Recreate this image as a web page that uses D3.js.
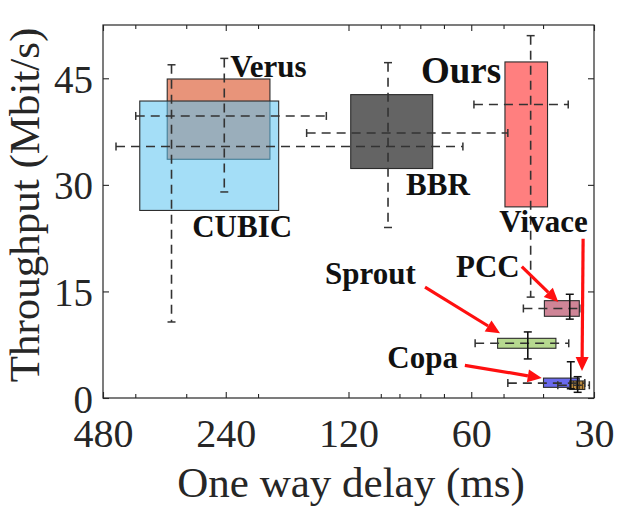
<!DOCTYPE html>
<html>
<head>
<meta charset="utf-8">
<script src="https://cdn.jsdelivr.net/npm/d3@7"></script>
<style>
  body { margin: 0; background: #fff; }
  text { font-family: "Liberation Serif", "Times New Roman", serif; }
</style>
</head>
<body>
<div id="chart"></div>
<script>
// one entry per scheme
var schemes      = ["Verus", "CUBIC", "BBR", "Ours", "PCC", "Sprout", "Copa", "Vivace"];
var boxDelayLo   = [187, 178, 74.6, 39.0, 32.6, 37.2, 32.6, 31.6];   // ms
var boxDelayHi   = [334, 390, 118.5, 49.6, 39.7, 51.7, 39.9, 34.4];
var boxTputLo    = [33.6, 26.4, 32.3, 26.9, 11.5, 7.0, 1.5, 1.2];     // Mbit/s
var boxTputHi    = [44.9, 41.8, 42.7, 47.3, 13.7, 8.4, 2.8, 2.4];
var medDelay     = [242, 326, 96, 42.9, 34.4, 43.6, 34.2, 32.9];
var medTput      = [39.7, 35.4, 37.3, 41.3, 12.6, 7.7, 2.1, 1.8];
var whiskDelayLo = [136, 62.9, 48.8, 34.7, 32.5, 34.6, 31.6, 30.8];
var whiskDelayHi = [399, 446, 152, 59.1, 44.7, 58.7, 48.8, 36.8];
var whiskTputLo  = [29.0, 10.7, 24.0, 14.2, 11.1, 5.5, 1.3, 0.8];
var whiskTputHi  = [47.8, 46.9, 47.2, 51.0, 14.6, 9.3, 5.1, 3.0];

var xMajorTicks = [480, 240, 120, 60, 30];
var xMinorTicks = [400, 300, 200, 100, 90, 80, 70, 50, 40];
var yTicks = [0, 15, 30, 45];

// text labels and arrows (anchored in data space)
var labelText  = ["Verus", "CUBIC", "BBR", "Ours", "Vivace", "PCC", "Sprout", "Copa"];
var labelDelay = [234, 290, 86.7, 79.7, 51.2, 65.4, 137, 96.4];
var labelTput  = [45.2, 22.7, 28.6, 44.3, 23.4, 17.1, 16.0, 4.2];
var arrowFrom  = [[45.1, 18.5], [77.9, 15.6], [62.2, 4.6], [31.9, 22.4]];
var arrowTo    = [[36.7, 13.5], [51.0, 9.1], [40.3, 2.8], [32.1, 3.8]];

// styling
var fills = {Verus: "#e8947a", CUBIC: "#59c3f0", BBR: "#646464", Ours: "#ff7f7f",
             PCC: "#cf8597", Sprout: "#b6d98f", Copa: "#6a6aee", Vivace: "url(#hatch)"};
var fillOpacity = {CUBIC: 0.55};
var solidVertical = {PCC: true, Sprout: true, Copa: true, Vivace: true};

var W = 617, H = 507;
var axisColor = "#262626";

var svg = d3.select("#chart").append("svg")
    .attr("width", W)
    .attr("height", H);

// hatch for the tiny Vivace box
var pat = svg.append("defs").append("pattern")
    .attr("id", "hatch")
    .attr("patternUnits", "userSpaceOnUse")
    .attr("width", 3).attr("height", 3);
pat.append("rect").attr("width", 3).attr("height", 3).attr("fill", "#b8893f");
pat.append("line").attr("x1", 0.5).attr("x2", 0.5).attr("y1", 0).attr("y2", 3)
    .attr("stroke", "#5a3d14").attr("stroke-width", 1);

// delay axis is log2, reversed (large delay on the left)
var x = d3.scaleLog().base(2)
    .domain([480, 30])
    .range([103, 594]);

var y = d3.scaleLinear()
    .domain([0, 52.5])
    .range([398, 25]);

var x0 = x.range()[0], x1 = x.range()[1], y0 = y.range()[0], y1 = y.range()[1];

// boxes
svg.append("g").selectAll("rect")
    .data(schemes)
  .enter().append("rect")
    .attr("x", function(d, i) { return x(boxDelayHi[i]); })
    .attr("y", function(d, i) { return y(boxTputHi[i]); })
    .attr("width", function(d, i) { return x(boxDelayLo[i]) - x(boxDelayHi[i]); })
    .attr("height", function(d, i) { return y(boxTputLo[i]) - y(boxTputHi[i]); })
    .attr("fill", function(d) { return fills[d]; })
    .attr("fill-opacity", function(d) { return fillOpacity[d] || 1; })
    .attr("stroke", "#2b2b2b")
    .attr("stroke-width", 1.1);

// whiskers: horizontal (delay spread) and vertical (throughput spread)
var wg = svg.append("g").attr("stroke", "#333").attr("fill", "none");
var cap = 4;

schemes.forEach(function(d, i) {
    var ym = y(medTput[i]), xm = x(medDelay[i]);
    var xa = x(whiskDelayHi[i]), xb = x(whiskDelayLo[i]);
    var ya = y(whiskTputHi[i]), yb = y(whiskTputLo[i]);

    wg.append("line")
        .attr("x1", xa).attr("x2", xb).attr("y1", ym).attr("y2", ym)
        .attr("stroke-width", 1.6)
        .attr("stroke-dasharray", "9,6");
    [xa, xb].forEach(function(xx) {
        wg.append("line")
            .attr("x1", xx).attr("x2", xx).attr("y1", ym - cap).attr("y2", ym + cap)
            .attr("stroke-width", 1.5);
    });

    wg.append("line")
        .attr("x1", xm).attr("x2", xm).attr("y1", ya).attr("y2", yb)
        .attr("stroke", solidVertical[d] ? "#111" : null)
        .attr("stroke-width", 1.6)
        .attr("stroke-dasharray", solidVertical[d] ? null : "9,6");
    [ya, yb].forEach(function(yy) {
        wg.append("line")
            .attr("x1", xm - cap).attr("x2", xm + cap).attr("y1", yy).attr("y2", yy)
            .attr("stroke", solidVertical[d] ? "#111" : null)
            .attr("stroke-width", 1.5);
    });
});

// frame
svg.append("rect")
    .attr("x", x0).attr("y", y1)
    .attr("width", x1 - x0).attr("height", y0 - y1)
    .attr("fill", "none")
    .attr("stroke", axisColor)
    .attr("stroke-width", 1.2);

// ticks (inward, mirrored on all sides)
function styleAxis(g) {
    g.select(".domain").remove();
    g.selectAll("line").attr("stroke", axisColor).attr("stroke-width", 1.1);
    g.selectAll("text").attr("fill", axisColor).style("font-size", "40px");
}

svg.append("g")
    .attr("transform", "translate(0," + y0 + ")")
    .call(d3.axisBottom(x).tickValues(xMajorTicks).tickSize(-6).tickSizeOuter(0)
        .tickPadding(21).tickFormat(d3.format("d")))
    .call(styleAxis);

svg.append("g")
    .attr("transform", "translate(0," + y0 + ")")
    .call(d3.axisBottom(x).tickValues(xMinorTicks).tickSize(-4).tickSizeOuter(0).tickFormat(""))
    .call(styleAxis);

svg.append("g")
    .attr("transform", "translate(0," + y1 + ")")
    .call(d3.axisTop(x).tickValues(xMajorTicks).tickSize(-6).tickSizeOuter(0).tickFormat(""))
    .call(styleAxis);

svg.append("g")
    .attr("transform", "translate(0," + y1 + ")")
    .call(d3.axisTop(x).tickValues(xMinorTicks).tickSize(-4).tickSizeOuter(0).tickFormat(""))
    .call(styleAxis);

svg.append("g")
    .attr("transform", "translate(" + x0 + ",0)")
    .call(d3.axisLeft(y).tickValues(yTicks).tickSize(-6).tickSizeOuter(0).tickPadding(10))
    .call(styleAxis)
    .selectAll("text").attr("dy", "0.36em").style("font-size", "39px");

svg.append("g")
    .attr("transform", "translate(" + x1 + ",0)")
    .call(d3.axisRight(y).tickValues(yTicks).tickSize(-6).tickSizeOuter(0).tickFormat(""))
    .call(styleAxis);

// axis titles
svg.append("text")
    .attr("x", 351)
    .attr("y", 497)
    .attr("text-anchor", "middle")
    .attr("fill", axisColor)
    .style("font-size", "43px")
    .text("One way delay (ms)");

svg.append("text")
    .attr("transform", "translate(39," + 205 + ") rotate(-90)")
    .attr("text-anchor", "middle")
    .attr("fill", axisColor)
    .style("font-size", "43px")
    .text("Throughput (Mbit/s)");

// scheme labels
svg.append("g").selectAll("text")
    .data(labelText)
  .enter().append("text")
    .attr("x", function(d, i) { return x(labelDelay[i]); })
    .attr("y", function(d, i) { return y(labelTput[i]); })
    .attr("fill", "#111")
    .style("font-weight", "bold")
    .style("font-size", function(d) { return d == "Ours" ? "37px" : "31px"; })
    .text(function(d) { return d; });

// red arrows
var ag = svg.append("g");
arrowFrom.forEach(function(f, i) {
    var t = arrowTo[i];
    var sx = x(f[0]), sy = y(f[1]), tx = x(t[0]), ty = y(t[1]);
    var ang = Math.atan2(ty - sy, tx - sx);
    var hl = 14, hw = 6.5;
    var bx = tx - hl * Math.cos(ang), by = ty - hl * Math.sin(ang);
    ag.append("line")
        .attr("x1", sx).attr("y1", sy).attr("x2", bx).attr("y2", by)
        .attr("stroke", "#ff1010")
        .attr("stroke-width", 3.2);
    ag.append("path")
        .attr("d", d3.line()([
            [tx, ty],
            [bx + hw * Math.sin(ang), by - hw * Math.cos(ang)],
            [bx - hw * Math.sin(ang), by + hw * Math.cos(ang)]
        ]) + "Z")
        .attr("fill", "#ff1010");
});
</script>
</body>
</html>
